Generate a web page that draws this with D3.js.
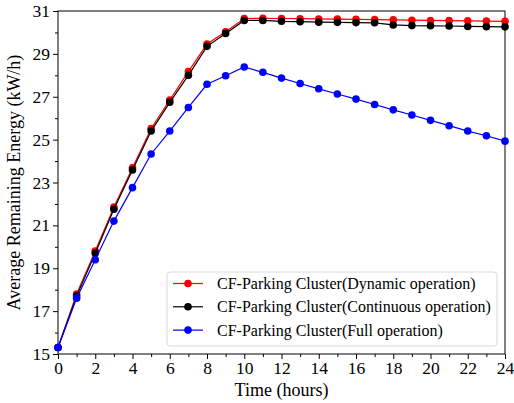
<!DOCTYPE html>
<html>
<head>
<meta charset="utf-8">
<script src="https://cdn.jsdelivr.net/npm/d3@7"></script>
<style>
  body { margin: 0; background: #fff; }
</style>
</head>
<body>
<div id="chart"></div>
<script>
/// DATA ///
const hours = d3.range(0, 25);
const dynamicOp = [15.3, 17.8, 19.8, 21.85, 23.69, 25.52, 26.85, 28.17, 29.46, 30.03, 30.65,
  30.66, 30.65, 30.64, 30.63, 30.62, 30.61, 30.6, 30.59, 30.57, 30.56, 30.55, 30.54, 30.53, 30.52];
const continuousOp = [15.3, 17.7, 19.7, 21.75, 23.58, 25.4, 26.74, 28.0, 29.35, 29.95, 30.56,
  30.56, 30.52, 30.5, 30.48, 30.47, 30.46, 30.45, 30.35, 30.32, 30.31, 30.3, 30.28, 30.27, 30.26];
const fullOp = [15.3, 17.6, 19.4, 21.2, 22.76, 24.33, 25.4, 26.5, 27.58, 27.98, 28.39,
  28.14, 27.87, 27.62, 27.37, 27.13, 26.89, 26.64, 26.39, 26.15, 25.9, 25.65, 25.4, 25.18, 24.93];
const seriesNames = [
  "CF-Parking Cluster(Dynamic operation)",
  "CF-Parking Cluster(Continuous operation)",
  "CF-Parking Cluster(Full operation)",
];
const seriesColors = ["#ff0000", "#000000", "#0000ff"];
const xTicks = d3.range(0, 25, 2);
const yTicks = d3.range(15, 32, 2);

const FONT = "Liberation Serif";
const W = 514, H = 403;
const margin = { top: 11, right: 9, bottom: 49, left: 58 };
const width = W - margin.left - margin.right;
const height = H - margin.top - margin.bottom;

const svg = d3.select("#chart").append("svg")
  .attr("width", W).attr("height", H)
  .attr("font-family", FONT);
const g = svg.append("g")
  .attr("transform", `translate(${margin.left},${margin.top})`);

const x = d3.scaleLinear().domain([0, 24]).range([0, width]);
const y = d3.scaleLinear().domain([15, 31]).range([height, 0]);

// minor ticks
g.append("g").attr("transform", `translate(0,${height})`)
  .call(d3.axisBottom(x).tickValues(d3.range(1, 24, 2)).tickSize(3).tickFormat(""))
  .call((a) => a.select(".domain").remove());
g.append("g")
  .call(d3.axisLeft(y).tickValues(d3.range(16, 31, 2)).tickSize(3).tickFormat(""))
  .call((a) => a.select(".domain").remove());

// major ticks
const xAxis = g.append("g").attr("transform", `translate(0,${height})`)
  .call(d3.axisBottom(x).tickValues(xTicks).tickSize(5).tickPadding(3));
const yAxis = g.append("g")
  .call(d3.axisLeft(y).tickValues(yTicks).tickSize(5).tickPadding(3));
[xAxis, yAxis].forEach((a) => {
  a.attr("font-family", FONT).attr("font-size", 17.5);
  a.select(".domain").remove();
  a.selectAll("text").attr("fill", "#000");
});

// frame
g.append("rect").attr("width", width).attr("height", height)
  .attr("fill", "none").attr("stroke", "#000").attr("stroke-width", 1);

const allSeries = [dynamicOp, continuousOp, fullOp];
const line = d3.line().x((d, i) => x(hours[i])).y((d) => y(d));

allSeries.forEach((vals, k) => {
  g.append("path").datum(vals)
    .attr("d", line).attr("fill", "none")
    .attr("stroke", seriesColors[k]).attr("stroke-width", 1.2);
  g.selectAll(".pt" + k).data(vals).enter().append("circle")
    .attr("cx", (d, i) => x(hours[i])).attr("cy", (d) => y(d))
    .attr("r", 3.8).attr("fill", seriesColors[k]);
});

// legend
const lg = svg.append("g").attr("transform", "translate(167,272)");
lg.append("rect").attr("width", 330).attr("height", 74).attr("rx", 3)
  .attr("fill", "#fff").attr("fill-opacity", 0.8)
  .attr("stroke", "#d9d9d9").attr("stroke-width", 1);
seriesNames.forEach((name, k) => {
  const yy = 11.5 + k * 23.3;
  lg.append("line").attr("x1", 6).attr("x2", 36).attr("y1", yy).attr("y2", yy)
    .attr("stroke", seriesColors[k]).attr("stroke-width", 1.2);
  lg.append("circle").attr("cx", 21).attr("cy", yy).attr("r", 3.8).attr("fill", seriesColors[k]);
  lg.append("text").attr("x", 50).attr("y", yy).attr("dy", "0.35em")
    .attr("font-size", 16).text(name);
});

// axis labels
svg.append("text")
  .attr("x", margin.left + width / 2).attr("y", 396)
  .attr("text-anchor", "middle").attr("font-size", 18)
  .text("Time (hours)");
svg.append("text")
  .attr("transform", `translate(20,${margin.top + height / 2}) rotate(-90)`)
  .attr("text-anchor", "middle").attr("font-size", 18)
  .text("Average Remaining Energy (kW/h)");
</script>
</body>
</html>
